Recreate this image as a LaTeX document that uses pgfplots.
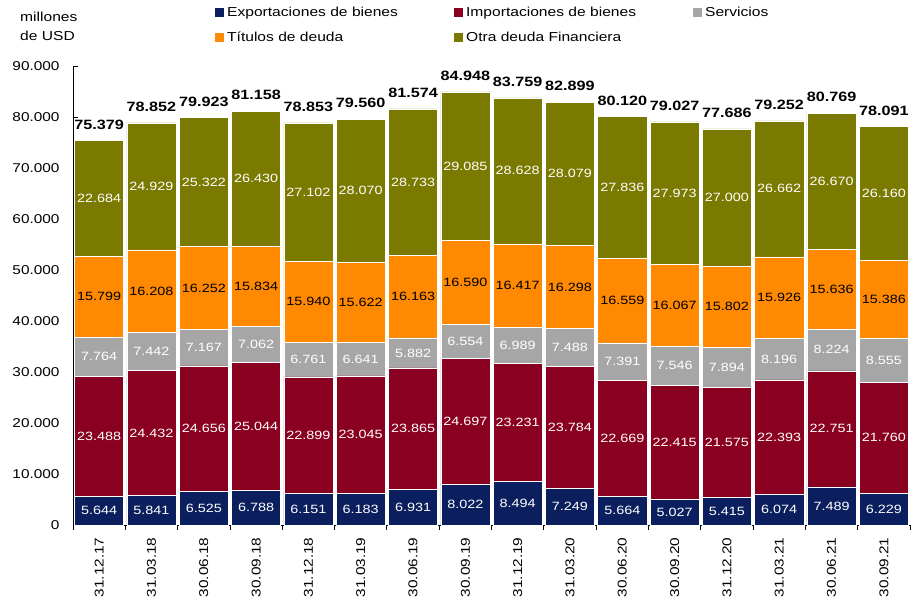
\documentclass[border=0pt]{standalone}
\usepackage{fontspec}
\setmainfont{Liberation Sans}[FakeStretch=1.2]
\usepackage{pgfplots}
\usepackage{pgfplotstable}
\pgfplotsset{compat=1.18}

\definecolor{cExp}{RGB}{11,31,94}
\definecolor{cImp}{RGB}{138,0,32}
\definecolor{cSer}{RGB}{166,166,166}
\definecolor{cTit}{RGB}{255,137,0}
\definecolor{cOtr}{RGB}{122,122,0}

\newcommand\fSeg{\fontsize{12bp}{14bp}\selectfont}
\newcommand\fTot{\bfseries\fontsize{13.5bp}{16bp}\selectfont}
\newcommand\fLeg{\fontsize{13bp}{19bp}\selectfont}
\newcommand\fTck{\fontsize{12.8bp}{14bp}\selectfont}

\pgfkeys{/pgf/number format/.cd, fixed, precision=0, 1000 sep={.}, assume math mode=true}

% millones de USD
\pgfplotstableread{
x  exp   imp   ser  tit   otr   tot
0  5644  23488 7764 15799 22684 75379
1  5841  24432 7442 16208 24929 78852
2  6525  24656 7167 16252 25322 79923
3  6788  25044 7062 15834 26430 81158
4  6151  22899 6761 15940 27102 78853
5  6183  23045 6641 15622 28070 79560
6  6931  23865 5882 16163 28733 81574
7  8022  24697 6554 16590 29085 84948
8  8494  23231 6989 16417 28628 83759
9  7249  23784 7488 16298 28079 82899
10 5664  22669 7391 16559 27836 80120
11 5027  22415 7546 16067 27973 79027
12 5415  21575 7894 15802 27000 77686
13 6074  22393 8196 15926 26662 79252
14 7489  22751 8224 15636 26670 80769
15 6229  21760 8555 15386 26160 78091
}\datos

\begin{document}
\begin{tikzpicture}
\useasboundingbox (-73bp,-75bp) rectangle (841bp,525bp);

\begin{axis}[
  at={(0,0)}, anchor=south west,
  scale only axis, width=837bp, height=459bp,
  ybar stacked, bar width=0.94,
  xmin=-0.5, xmax=15.5, ymin=0, ymax=90000,
  axis x line*=bottom, axis y line*=left,
  axis line style={black, line width=0.8bp},
  tick style={black, line width=0.8bp},
  xtick align=outside, ytick align=inside,
  major tick length=5bp, minor tick length=5bp,
  xtick={0,...,15},
  xticklabels={31.12.17,31.03.18,30.06.18,30.09.18,31.12.18,31.03.19,30.06.19,30.09.19,
               31.12.19,31.03.20,30.06.20,30.09.20,31.12.20,31.03.21,30.06.21,30.09.21},
  major x tick style={draw=none},
  minor xtick={-0.5,0.5,...,15.5},
  x tick label style={yshift=-4bp, rotate=90, anchor=east, font=\fTck},
  ytick={0,10000,...,90000}, scaled y ticks=false,
  y tick label style={font=\fTck, xshift=-10bp},
  legend columns=3,
  legend style={draw=none, fill=none, at={(0.1696,1.133)}, anchor=north west,
    inner sep=0pt, column sep=0pt, row sep=11bp,
    nodes={inner sep=1.5bp, font=\fLeg}},
  legend image code/.code={\fill[#1, draw=none] (0bp,-4.5bp) rectangle (9bp,4.5bp);},
]
\addplot[fill=cExp, draw=white, line width=0.5bp] table[x=x, y=exp]{\datos};
\addplot[fill=cImp, draw=white, line width=0.5bp] table[x=x, y=imp]{\datos};
\addplot[fill=cSer, draw=white, line width=0.5bp] table[x=x, y=ser]{\datos};
\addplot[fill=cTit, draw=white, line width=0.5bp] table[x=x, y=tit]{\datos};
\addplot[fill=cOtr, draw=white, line width=0.5bp] table[x=x, y=otr]{\datos};
\legend{\makebox[227bp][l]{\hspace{1.5bp}Exportaciones de bienes},
        \makebox[227bp][l]{\hspace{1.5bp}Importaciones de bienes},
        \hspace{1.5bp}Servicios,
        \makebox[227bp][l]{\hspace{1.5bp}Títulos de deuda},
        \makebox[227bp][l]{\hspace{1.5bp}Otra deuda Financiera}}
\end{axis}

% etiquetas de valores
\begin{axis}[
  at={(0,0)}, anchor=south west,
  scale only axis, width=837bp, height=459bp,
  xmin=-0.5, xmax=15.5, ymin=0, ymax=90000,
  axis lines=none, ticks=none, clip=false,
  nodes near coords,
  every node near coord/.append style={anchor=center, font=\fSeg, inner sep=0pt},
]
\addplot[draw=none, mark=none, point meta=\thisrow{exp},
  nodes near coords style={text=white}]
  table[x=x, y expr=\thisrow{exp}/2]{\datos};
\addplot[draw=none, mark=none, point meta=\thisrow{imp},
  nodes near coords style={text=white}]
  table[x=x, y expr=\thisrow{exp}+\thisrow{imp}/2]{\datos};
\addplot[draw=none, mark=none, point meta=\thisrow{ser},
  nodes near coords style={text=white}]
  table[x=x, y expr=\thisrow{exp}+\thisrow{imp}+\thisrow{ser}/2]{\datos};
\addplot[draw=none, mark=none, point meta=\thisrow{tit},
  nodes near coords style={text=black}]
  table[x=x, y expr=\thisrow{exp}+\thisrow{imp}+\thisrow{ser}+\thisrow{tit}/2]{\datos};
\addplot[draw=none, mark=none, point meta=\thisrow{otr},
  nodes near coords style={text=white}]
  table[x=x, y expr=\thisrow{exp}+\thisrow{imp}+\thisrow{ser}+\thisrow{tit}+\thisrow{otr}/2]{\datos};
\addplot[draw=none, mark=none, point meta=\thisrow{tot},
  nodes near coords style={text=black, anchor=south, font=\fTot, yshift=11bp}]
  table[x=x, y=tot]{\datos};
\end{axis}

\node[anchor=north west, align=left, inner sep=0pt, font=\fLeg] at (-53bp,513bp) {millones\\de USD};
\end{tikzpicture}
\end{document}
